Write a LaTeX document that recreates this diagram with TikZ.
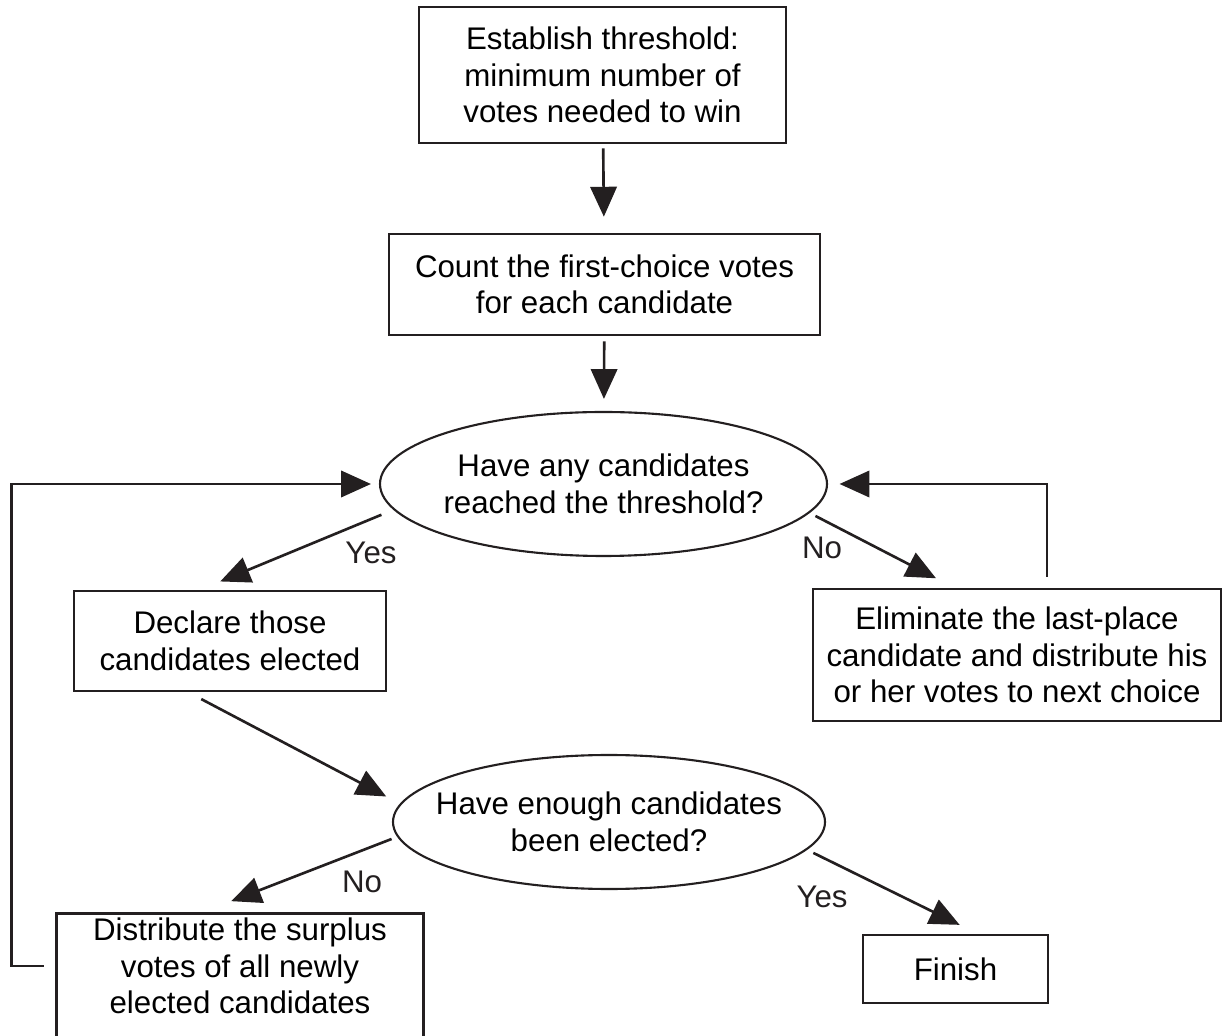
\documentclass[tikz,border=0pt]{standalone}
\usepackage{fontspec}
\setmainfont{Liberation Sans}
\usepackage{tikz}
\usepackage{xcolor}
\usetikzlibrary{arrows.meta,positioning,shapes,calc}
\definecolor{ink}{HTML}{231F20}
\tikzset{
  stepbox/.style={draw=ink,line width=1.5pt,align=center,inner sep=0pt,
                  font=\fontsize{17.8}{20.7}\selectfont},
  openbox/.style={align=center,inner sep=0pt,
                  font=\fontsize{17.8}{20.7}\selectfont},
  question/.style={ellipse,draw=ink,line width=1.2pt,align=center,
                   inner ysep=0pt,font=\fontsize{17.8}{20.7}\selectfont},
  frame/.style={draw=ink,line width=1.5pt},
  flowarr/.style={-{Triangle[length=17pt,width=15pt]},line width=1.5pt,
                  draw=ink},
  answer/.style={font=\fontsize{17.8}{20.7}\selectfont,color=ink}
}
\begin{document}
\begin{tikzpicture}[x=1cm,y=1cm]
    \path[use as bounding box] (0,0) rectangle (24.52,20.70);

    \node[stepbox,minimum width=7.34cm,minimum height=2.72cm] (thresh)
      at (12.05,19.20)
      {Establish threshold:\\minimum number of\\votes needed to win};
    \node[stepbox,minimum width=8.62cm,minimum height=2.02cm] (count)
      at (12.09,15.01)
      {Count the first-choice votes\\for each candidate};
    \node[question,inner xsep=-2pt,minimum width=8.94cm,minimum height=2.88cm]
      (reached) at (12.07,11.02)
      {Have any candidates\\reached the threshold?};
    \node[stepbox,minimum width=6.24cm,minimum height=2.00cm] (declare)
      at (4.60,7.88) {Declare those\\candidates elected};
    \node[stepbox,minimum width=8.16cm,minimum height=2.64cm] (elim)
      at (20.34,7.60)
      {Eliminate the last-place\\candidate and distribute his\\or her votes to next choice};
    \node[question,inner xsep=-13pt,minimum width=8.64cm,minimum height=2.68cm]
      (enough) at (12.18,4.26)
      {Have enough candidates\\been elected?};
    \node[openbox,minimum width=7.32cm,minimum height=2.08cm] (surplus)
      at (4.80,1.38)
      {Distribute the surplus\\votes of all newly\\elected candidates};
    \draw[frame] ([yshift=-1cm]surplus.south west) -- (surplus.north west)
      -- (surplus.north east) -- ([yshift=-1cm]surplus.south east);
    \node[stepbox,minimum width=3.70cm,minimum height=1.36cm] (finish)
      at (19.11,1.32) {Finish};

    \node[answer] (yes1) at (7.42,9.64) {Yes};
    \node[answer] (no1) at (16.44,9.74) {No};
    \node[answer] (no2) at (7.24,3.06) {No};
    \node[answer] (yes2) at (16.44,2.76) {Yes};

    \draw[flowarr,shorten <=0.08cm,shorten >=0.32cm] (thresh) -- (count);
    \draw[flowarr,shorten <=0.10cm,shorten >=0.24cm] (count) -- (reached);
    \draw[flowarr,shorten <=0.26cm,shorten >=0.43cm]
      (reached.187.75) -- (declare.120);
    \draw[flowarr,shorten <=0.13cm,shorten >=0.41cm]
      (reached.352.9) -- (elim.133.2);
    \draw[flowarr,shorten <=0.22cm,shorten >=0.23cm]
      ([xshift=0.6cm]elim.north) |- (reached.east);
    \draw[flowarr,shorten <=0.26cm,shorten >=0.16cm]
      (surplus.west) -- ++(-0.9,0) |- (reached.west);
    \draw[flowarr,shorten <=0.29cm,shorten >=0.31cm]
      (declare.231.5) -- (enough.175.5);
    \draw[flowarr,shorten <=0.12cm,shorten >=0.69cm]
      (enough.184.9) -- (surplus.128);
    \draw[flowarr,shorten <=0.14cm,shorten >=0.40cm]
      (enough.352.3) -- (finish.58.1);
  \end{tikzpicture}
\end{document}
